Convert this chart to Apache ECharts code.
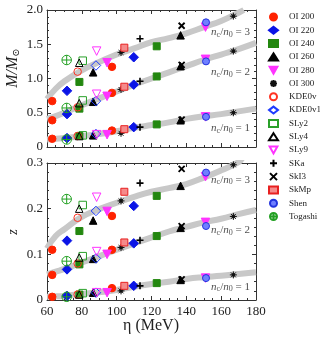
<!DOCTYPE html>
<html>
<head>
<meta charset="utf-8">
<script src="https://cdn.jsdelivr.net/npm/echarts@6/dist/echarts.min.js"></script>
<style>
html, body { margin: 0; padding: 0; background: #fff; }
#chart { width: 320px; height: 338px; }
</style>
</head>
<body>
<div id="chart"></div>
<script>
// EOS names in legend order
var eosNames = ['OI 200', 'OI 220', 'OI 240', 'OI 260', 'OI 280', 'OI 300', 'KDE0v', 'KDE0v1',
    'SLy2', 'SLy4', 'SLy9', 'SKa', 'SkI3', 'SkMp', 'Shen', 'Togashi'];

// one entry per model point
var pointEos = ['OI 200', 'OI 200', 'OI 220', 'OI 220', 'OI 240', 'OI 240', 'OI 260', 'OI 260',
    'OI 280', 'OI 280', 'OI 300', 'OI 300', 'KDE0v', 'KDE0v1', 'SLy2', 'SLy4', 'SLy9', 'SKa',
    'SkI3', 'SkMp', 'Shen', 'Togashi'];
var eta = [63, 97.3, 71.5, 109.8, 78.6, 123, 86.5, 136.7, 94.5, 151, 102.5, 167,
    77.6, 88.1, 80.5, 78.5, 88.5, 113.4, 137.3, 104.4, 151.3, 71.3];
// M/Msun for nc/n0 = 1, 2, 3
var mass1 = [0.12, 0.24, 0.13, 0.29, 0.16, 0.33, 0.17, 0.39, 0.18, 0.44, 0.20, 0.50,
    0.16, 0.19, 0.17, 0.16, 0.18, 0.29, 0.40, 0.26, 0.44, 0.11];
var mass2 = [0.39, 0.79, 0.48, 0.91, 0.56, 1.03, 0.66, 1.18, 0.74, 1.28, 0.84, 1.40,
    0.58, 0.67, 0.68, 0.64, 0.77, 0.96, 1.20, 0.88, 1.25, 0.57];
var mass3 = [0.67, 1.17, 0.82, 1.31, 0.95, 1.47, 1.09, 1.63, 1.23, 1.75, 1.38, 1.91,
    1.10, 1.19, 1.26, 1.23, 1.40, 1.58, 1.77, 1.45, 1.82, 1.27];
// redshift z for nc/n0 = 1, 2, 3
var z1 = [0.007, 0.026, 0.009, 0.031, 0.012, 0.037, 0.016, 0.044, 0.016, 0.048, 0.020, 0.055,
    0.012, 0.016, 0.015, 0.012, 0.016, 0.031, 0.045, 0.031, 0.048, 0.007];
var z2 = [0.055, 0.110, 0.067, 0.124, 0.078, 0.140, 0.090, 0.158, 0.100, 0.170, 0.115, 0.183,
    0.080, 0.091, 0.096, 0.093, 0.106, 0.131, 0.162, 0.126, 0.162, 0.085];
var z3 = [0.110, 0.184, 0.130, 0.206, 0.151, 0.228, 0.174, 0.250, 0.194, 0.270, 0.217, 0.296,
    0.180, 0.195, 0.208, 0.200, 0.225, 0.256, 0.287, 0.237, 0.279, 0.221];

// fitting curves (grey bands)
var fitEta = [60, 65, 70, 80, 90, 100, 110, 120, 130, 140, 150, 160, 170, 180];
var fitM1 = [0.11, 0.12, 0.13, 0.16, 0.19, 0.23, 0.28, 0.32, 0.36, 0.41, 0.45, 0.48, 0.52, 0.56];
var fitM2 = [0.41, 0.45, 0.50, 0.61, 0.71, 0.81, 0.91, 1.00, 1.09, 1.18, 1.27, 1.35, 1.43, 1.52];
var fitEta3 = [60, 65, 70, 80, 90, 100, 110, 120, 130, 140, 150, 160, 170, 173];
var fitM3 = [0.70, 0.85, 0.96, 1.12, 1.24, 1.35, 1.44, 1.53, 1.59, 1.66, 1.75, 1.84, 1.96, 2.0];
var fitZ1 = [0.007, 0.008, 0.009, 0.013, 0.017, 0.022, 0.029, 0.035, 0.040, 0.046, 0.050, 0.053, 0.057, 0.061];
var fitZ2 = [0.056, 0.062, 0.068, 0.082, 0.096, 0.110, 0.124, 0.137, 0.150, 0.160, 0.170, 0.178, 0.188, 0.197];
var fitZ3 = [0.113, 0.140, 0.155, 0.182, 0.199, 0.213, 0.226, 0.237, 0.245, 0.254, 0.268, 0.284, 0.302, 0.31];
var fitEtaZ3 = [60, 65, 70, 80, 90, 100, 110, 120, 130, 140, 150, 160, 170, 172];

var ncLabelsM = [[176.5, 0.27, 1], [176.5, 1.09, 2], [176.5, 1.67, 3]];
var ncLabelsZ = [[176.5, 0.029, 1], [176.5, 0.153, 2], [176.5, 0.263, 3]];

var serif = '"Liberation Serif", "DejaVu Serif", serif';
var downTri = 'path://M0,0L10,0L5,9Z';
var styles = {
    'OI 200': {symbol: 'circle', size: 7.5, color: '#ff2200', border: '#ff2200'},
    'OI 220': {symbol: 'diamond', size: 9.5, color: '#0a14e6', border: '#0a14e6'},
    'OI 240': {symbol: 'rect', size: 7, color: '#23870f', border: '#23870f'},
    'OI 260': {symbol: 'triangle', size: 7.5, color: '#000', border: '#000'},
    'OI 280': {symbol: downTri, size: 8.5, color: '#ff33ff', border: '#ff33ff'},
    'OI 300': {symbol: 'path://M5,0L5,10M0,5L10,5M1.5,1.5L8.5,8.5M8.5,1.5L1.5,8.5M3,5A2,2,0,1,1,7,5A2,2,0,1,1,3,5Z', size: 7, color: '#111', border: '#111', bw: 1},
    'KDE0v': {symbol: 'circle', size: 7.5, color: 'transparent', border: '#ff3322'},
    'KDE0v1': {symbol: 'diamond', size: 9.5, color: 'transparent', border: '#1f3cff'},
    'SLy2': {symbol: 'rect', size: 7.5, color: 'transparent', border: '#2aa02a'},
    'SLy4': {symbol: 'triangle', size: 7.5, color: 'transparent', border: '#000'},
    'SLy9': {symbol: downTri, size: 8.5, color: 'transparent', border: '#ff33ff'},
    'SKa': {symbol: 'path://M5,0L5,10M0,5L10,5', size: 7, color: 'transparent', border: '#000', bw: 1.6},
    'SkI3': {symbol: 'path://M0,0L10,10M10,0L0,10', size: 6, color: 'transparent', border: '#000', bw: 1.8},
    'SkMp': {symbol: 'rect', size: 7, color: '#f58a8a', border: '#e82020'},
    'Shen': {symbol: 'circle', size: 7, color: '#6f7fff', border: '#2233dd'},
    'Togashi': {symbol: 'path://M0,5A5,5,0,1,1,10,5A5,5,0,1,1,0,5ZM5,0L5,10M0,5L10,5', size: 9.5, color: 'transparent', border: '#22a022', bw: 1}
};

function zip(xs, ys) {
    return xs.map(function (x, i) { return [x, ys[i]]; });
}

var series = [];
function fitLine(xs, ys, ax) {
    series.push({
        type: 'line', xAxisIndex: ax, yAxisIndex: ax, data: zip(xs, ys),
        smooth: true, symbol: 'none', silent: true, z: 1,
        lineStyle: {color: '#c8c8c8', width: 6}
    });
}
fitLine(fitEta, fitM1, 0); fitLine(fitEta, fitM2, 0); fitLine(fitEta3, fitM3, 0);
fitLine(fitEta, fitZ1, 2); fitLine(fitEta, fitZ2, 2); fitLine(fitEtaZ3, fitZ3, 2);

eosNames.forEach(function (name) {
    var s = styles[name];
    var top = [], bot = [];
    pointEos.forEach(function (e, i) {
        if (e !== name) return;
        top.push([eta[i], mass1[i]], [eta[i], mass2[i]], [eta[i], mass3[i]]);
        bot.push([eta[i], z1[i]], [eta[i], z2[i]], [eta[i], z3[i]]);
    });
    [[top, 0], [bot, 2]].forEach(function (p) {
        series.push({
            name: name, type: 'scatter', xAxisIndex: p[1], yAxisIndex: p[1], data: p[0],
            symbol: s.symbol, symbolSize: s.size, z: 3,
            itemStyle: {color: s.color, borderColor: s.border, borderWidth: s.bw || 1, opacity: 1}
        });
    });
});

var ncRich = {
    i: {fontFamily: serif, fontStyle: 'italic', fontSize: 11, color: '#222'},
    s: {fontFamily: serif, fontSize: 8, color: '#222', verticalAlign: 'bottom', padding: [5, 0, 0, 0]},
    t: {fontFamily: serif, fontSize: 11, color: '#222'}
};
[[ncLabelsM, 0], [ncLabelsZ, 2]].forEach(function (p) {
    series.push({
        type: 'scatter', xAxisIndex: p[1], yAxisIndex: p[1], data: p[0], symbolSize: 0,
        silent: true, z: 4,
        label: {
            show: true, position: 'left', distance: 0,
            formatter: function (d) { return '{i|n}{s|c}{t|/}{i|n}{s|0}{t| = ' + d.value[2] + '}'; },
            rich: ncRich
        }
    });
});

function xAx(grid, pos, labels) {
    return {
        type: 'value', gridIndex: grid, position: pos, min: 60, max: 180, interval: 20,
        axisLine: {show: true, onZero: false, lineStyle: {color: '#333', width: 1}},
        axisTick: {inside: true, length: 4, lineStyle: {color: '#333'}},
        minorTick: {show: true, splitNumber: 4, length: 2, lineStyle: {color: '#333'}},
        splitLine: {show: false},
        axisLabel: {show: labels, color: '#222', fontFamily: serif, fontSize: 13, margin: 5}
    };
}
function yAx(grid, pos, max, step, labels) {
    return {
        type: 'value', gridIndex: grid, position: pos, min: 0, max: max, interval: step,
        axisLine: {show: true, onZero: false, lineStyle: {color: '#333', width: 1}},
        axisTick: {inside: true, length: 4, lineStyle: {color: '#333'}},
        minorTick: {show: true, splitNumber: 5, length: 2, lineStyle: {color: '#333'}},
        splitLine: {show: false},
        axisLabel: {
            show: labels, color: '#222', fontFamily: serif, fontSize: 13, margin: 4,
            formatter: function (v) { return v === 0 ? '0' : v.toFixed(1); }
        }
    };
}

var myChart = echarts.init(document.getElementById('chart'));
var option = {
    animation: false,
    grid: [
        {left: 47, top: 10, width: 209, height: 137},
        {left: 47, top: 163, width: 209, height: 137}
    ],
    xAxis: [xAx(0, 'bottom', false), xAx(0, 'top', false), xAx(1, 'bottom', true), xAx(1, 'top', false)],
    yAxis: [yAx(0, 'left', 2, 0.5, true), yAx(0, 'right', 2, 0.5, false),
        yAx(1, 'left', 0.3, 0.1, true), yAx(1, 'right', 0.3, 0.1, false)],
    legend: {
        data: eosNames, orient: 'vertical', left: 268, top: 12.5, padding: 0,
        itemWidth: 9, itemHeight: 7, itemGap: 4.3,
        textStyle: {fontFamily: serif, fontSize: 9, color: '#222', padding: [0, 0, 0, 6]},
        selectedMode: false
    },
    graphic: [
        {type: 'text', x: 13, y: 68, rotation: Math.PI / 2,
            style: {text: '{i|M}{t|/}{i|M}{s|⊙}', align: 'center', verticalAlign: 'middle',
                rich: {
                    i: {fontFamily: serif, fontStyle: 'italic', fontSize: 16, fill: '#222'},
                    t: {fontFamily: serif, fontStyle: 'italic', fontSize: 16, fill: '#222'},
                    s: {fontFamily: serif, fontSize: 10, fill: '#222', verticalAlign: 'bottom', padding: [6, 0, 0, 0]}
                }}},
        {type: 'text', x: 13, y: 232, rotation: Math.PI / 2,
            style: {text: 'z', font: 'italic 14px ' + serif, fill: '#222', align: 'center', verticalAlign: 'middle'}},
        {type: 'text', x: 151, y: 326,
            style: {text: 'η (MeV)', font: '16px ' + serif, fill: '#222', align: 'center', verticalAlign: 'middle'}}
    ],
    series: series
};
myChart.setOption(option);
</script>
</body>
</html>
